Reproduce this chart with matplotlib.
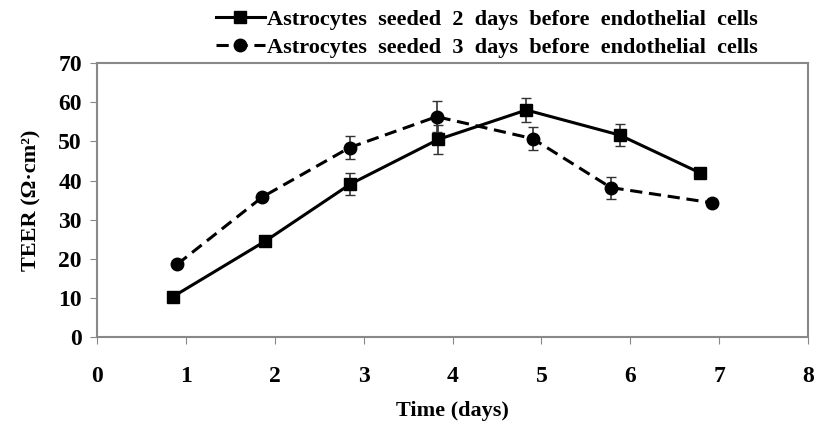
import matplotlib
matplotlib.use("Agg")
import matplotlib.pyplot as plt

plt.rcParams["font.family"] = ["Liberation Serif", "DejaVu Serif"]
plt.rcParams["font.weight"] = "bold"

# series: astrocytes seeded 2 days before endothelial cells
x2 = [0.85, 1.89, 2.85, 3.84, 4.83, 5.88, 6.78]
y2 = [10.3, 24.5, 39.1, 50.5, 58.0, 51.6, 42.0]
e2 = [0.0, 0.0, 2.9, 3.8, 3.0, 2.8, 0.0]

# series: astrocytes seeded 3 days before endothelial cells
x3 = [0.90, 1.86, 2.84, 3.82, 4.90, 5.78, 6.92]
y3 = [18.6, 35.8, 48.4, 56.3, 50.7, 38.2, 34.3]
e3 = [0.0, 0.0, 3.0, 3.9, 2.9, 2.8, 0.0]

labels = ["Astrocytes  seeded  2  days  before  endothelial  cells",
          "Astrocytes  seeded  3  days  before  endothelial  cells"]

fig = plt.figure(figsize=(8.17, 4.23), dpi=100)
ax = fig.add_axes([0.119, 0.203, 0.870, 0.648])

ax.errorbar(x2, y2, yerr=e2, color="black", lw=2.2, marker="s", ms=9,
            ecolor="#333333", elinewidth=1.2, capsize=3.5, label=labels[0])
ax.errorbar(x3, y3, yerr=e3, color="black", lw=2.2, ls=(0, (4, 2.2)), marker="o", ms=9,
            ecolor="#333333", elinewidth=1.2, capsize=3.5, label=labels[1])

ax.set_xlim(0, 8)
ax.set_ylim(0, 70)
ax.set_xticks(range(0, 9))
ax.set_yticks(range(0, 71, 10))
ax.tick_params(labelsize=17, length=5, color="#888888")
ax.tick_params(axis="x", pad=16)
ax.tick_params(axis="y", pad=6)
for s in ax.spines.values():
    s.set_color("#888888")
    s.set_linewidth(1.5)

ax.set_xlabel("Time (days)", fontsize=16, fontweight="bold", labelpad=10)
ax.set_ylabel("TEER (Ω·cm²)", fontsize=16, fontweight="bold", labelpad=12)

handles, labs = ax.get_legend_handles_labels()
handles = [h[0] for h in handles]
ax.legend(handles, labs, loc="lower center", bbox_to_anchor=(0.548, 0.985), frameon=False,
          fontsize=16, handlelength=2.2, handletextpad=0.1, labelspacing=0.35,
          borderaxespad=0.0)

fig.savefig("out.png", dpi=100)
